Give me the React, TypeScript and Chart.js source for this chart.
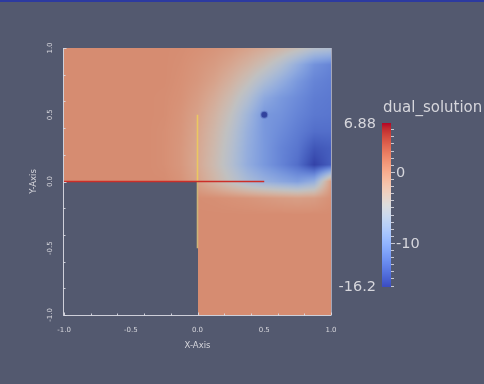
import { useEffect, useRef } from "react";
import { Chart, registerables } from "chart.js";

Chart.register(...registerables);

// Mesh node coordinates of the L-shaped domain (columns left→right, rows top→bottom)
const nodeX = [-1, -0.875, -0.75, -0.625, -0.5, -0.375, -0.25, -0.125, 0, 0.125, 0.25, 0.375, 0.5, 0.625, 0.75, 0.875, 1];
const nodeY = [1, 0.875, 0.75, 0.625, 0.5, 0.375, 0.25, 0.125, 0, -0.125, -0.25, -0.375, -0.5, -0.625, -0.75, -0.875, -1];

const _ = null;
// dual_solution nodal values, one row per nodeY entry (null = outside the domain)
const dualSolution: (number | null)[][] = [
  [0.7, 0.7, 0.7, 0.7, 0.7, 0.7, 0.7, 0.6, 0.4, 0.1, -0.3, -1.0, -1.8, -2.8, -4.0, -5.5, -6.0],
  [0.7, 0.7, 0.7, 0.7, 0.7, 0.7, 0.7, 0.5, 0.1, -0.4, -1.3, -2.5, -4.0, -6.0, -8.5, -11.0, -12.0],
  [0.7, 0.7, 0.7, 0.7, 0.7, 0.7, 0.7, 0.4, -0.1, -1.0, -2.4, -4.2, -6.5, -8.5, -10.5, -12.0, -12.5],
  [0.7, 0.7, 0.7, 0.7, 0.7, 0.7, 0.6, 0.3, -0.5, -1.8, -3.6, -6.0, -9.0, -10.5, -11.5, -12.5, -12.8],
  [0.7, 0.7, 0.7, 0.7, 0.7, 0.7, 0.6, 0.1, -0.9, -2.5, -4.6, -7.5, -10.5, -11.0, -12.0, -12.8, -13.0],
  [0.7, 0.7, 0.7, 0.7, 0.7, 0.7, 0.5, 0.0, -1.2, -3.0, -5.3, -8.2, -10.5, -11.5, -12.5, -13.5, -13.5],
  [0.7, 0.7, 0.7, 0.7, 0.7, 0.7, 0.5, -0.1, -1.4, -3.3, -5.7, -8.5, -10.5, -12.0, -13.0, -15.0, -14.5],
  [0.7, 0.7, 0.7, 0.7, 0.7, 0.7, 0.5, -0.1, -1.5, -3.5, -5.9, -8.6, -10.5, -12.0, -13.5, -16.2, -14.5],
  [0.7, 0.7, 0.7, 0.7, 0.7, 0.7, 0.7, 0.2, -1.0, -2.8, -4.8, -6.8, -8.2, -9.2, -10.0, -8.5, -0.5],
  [_, _, _, _, _, _, _, _, 0.6, 0.5, 0.3, 0.1, -0.2, -0.5, -0.7, -0.5, 0.4],
  [_, _, _, _, _, _, _, _, 0.7, 0.7, 0.7, 0.7, 0.7, 0.7, 0.7, 0.7, 0.7],
  [_, _, _, _, _, _, _, _, 0.7, 0.7, 0.7, 0.7, 0.7, 0.7, 0.7, 0.7, 0.7],
  [_, _, _, _, _, _, _, _, 0.7, 0.7, 0.7, 0.7, 0.7, 0.7, 0.7, 0.7, 0.7],
  [_, _, _, _, _, _, _, _, 0.7, 0.7, 0.7, 0.7, 0.7, 0.7, 0.7, 0.7, 0.7],
  [_, _, _, _, _, _, _, _, 0.7, 0.7, 0.7, 0.7, 0.7, 0.7, 0.7, 0.7, 0.7],
  [_, _, _, _, _, _, _, _, 0.7, 0.7, 0.7, 0.7, 0.7, 0.7, 0.7, 0.7, 0.7],
  [_, _, _, _, _, _, _, _, 0.7, 0.7, 0.7, 0.7, 0.7, 0.7, 0.7, 0.7, 0.7],
];

// Point singularity inside the upper-right block
const hotspot = [{ x: 0.5, y: 0.5 }];

// Reference lines drawn over the field
const redSegment = [{ x: -1, y: 0 }, { x: 0.5, y: 0 }];
const yellowUpper = [{ x: 0, y: 0.5 }, { x: 0, y: 0 }];
const yellowLower = [{ x: 0, y: 0 }, { x: 0, y: -0.5 }];

// Axis labelling
const axisTickValues = [-1, -0.5, 0, 0.5, 1];
const axisTickLabels = ["-1.0", "-0.5", "0.0", "0.5", "1.0"];
const xTitle = "X-Axis";
const yTitle = "Y-Axis";

// Colour legend
const fieldName = "dual_solution";
const rangeMin = -16.2;
const rangeMax = 6.88;
const rangeLabels = ["6.88", "-16.2"];
const legendTickValues = [0, -10];
const legendTickLabels = ["0", "-10"];

const BG = "rgb(83,89,111)";
const TEXT = "rgb(214,214,220)";

// Cool-to-warm diverging palette
const COOL_WARM: number[][] = [
  [59, 76, 192], [68, 90, 204], [77, 104, 215], [87, 117, 225], [98, 130, 234], [108, 142, 241],
  [119, 154, 247], [130, 165, 251], [141, 176, 254], [152, 185, 255], [163, 194, 255], [174, 201, 253],
  [184, 208, 249], [194, 213, 244], [204, 217, 238], [213, 219, 230], [221, 221, 221], [229, 216, 209],
  [236, 211, 197], [241, 204, 185], [245, 196, 173], [247, 187, 160], [247, 177, 148], [247, 166, 135],
  [244, 154, 123], [241, 141, 111], [236, 127, 99], [229, 112, 88], [222, 96, 77], [213, 80, 66],
  [203, 62, 56], [192, 40, 47], [180, 4, 38],
];

function coolWarm(v: number): number[] {
  let t = (v - rangeMin) / (rangeMax - rangeMin);
  t = Math.max(0, Math.min(1, t));
  const f = t * (COOL_WARM.length - 1);
  const i = Math.min(COOL_WARM.length - 2, Math.floor(f));
  const k = f - i;
  const a = COOL_WARM[i];
  const b = COOL_WARM[i + 1];
  return [a[0] + (b[0] - a[0]) * k, a[1] + (b[1] - a[1]) * k, a[2] + (b[2] - a[2]) * k];
}

// Locate the mesh interval holding v; returns [index, fraction] or null
function locate(nodes: number[], v: number): [number, number] | null {
  for (let i = 0; i < nodes.length - 1; i++) {
    const a = nodes[i];
    const b = nodes[i + 1];
    const lo = Math.min(a, b);
    const hi = Math.max(a, b);
    if (v >= lo && v <= hi) return [i, (v - a) / (b - a)];
  }
  return null;
}

const SHADE = 0.87;

const backgroundPlugin = {
  id: "background",
  beforeDraw(chart: any) {
    const { ctx, width, height } = chart;
    ctx.save();
    ctx.fillStyle = BG;
    ctx.fillRect(0, 0, width, height);
    ctx.fillStyle = "rgb(44,58,160)";
    ctx.fillRect(0, 0, width, 2);
    ctx.restore();
  },
};

const fieldPlugin = {
  id: "field",
  beforeDatasetsDraw(chart: any) {
    const { ctx, chartArea: a, scales } = chart;
    const xs = scales.x;
    const ys = scales.y;
    const x0 = Math.floor(a.left);
    const y0 = Math.floor(a.top);
    const w = Math.ceil(a.right) - x0;
    const h = Math.ceil(a.bottom) - y0;
    const off = document.createElement("canvas");
    off.width = w;
    off.height = h;
    const octx = off.getContext("2d")!;
    const img = octx.createImageData(w, h);
    for (let py = 0; py < h; py++) {
      const vy = ys.getValueForPixel(y0 + py + 0.5);
      const ly = locate(nodeY, vy);
      if (!ly) continue;
      const [j, fy] = ly;
      for (let px = 0; px < w; px++) {
        const vx = xs.getValueForPixel(x0 + px + 0.5);
        const lx = locate(nodeX, vx);
        if (!lx) continue;
        const [i, fx] = lx;
        const v00 = dualSolution[j][i];
        const v10 = dualSolution[j][i + 1];
        const v01 = dualSolution[j + 1][i];
        const v11 = dualSolution[j + 1][i + 1];
        if (v00 == null || v10 == null || v01 == null || v11 == null) continue;
        const v = v00 * (1 - fx) * (1 - fy) + v10 * fx * (1 - fy) + v01 * (1 - fx) * fy + v11 * fx * fy;
        const c = coolWarm(v);
        const o = (py * w + px) * 4;
        img.data[o] = c[0] * SHADE;
        img.data[o + 1] = c[1] * SHADE;
        img.data[o + 2] = c[2] * SHADE;
        img.data[o + 3] = 255;
      }
    }
    octx.putImageData(img, 0, 0);
    ctx.drawImage(off, x0, y0);
  },
};

const axesPlugin = {
  id: "cubeAxes",
  afterDatasetsDraw(chart: any) {
    const { ctx, chartArea: a, scales } = chart;
    const xs = scales.x;
    const ys = scales.y;
    ctx.save();
    ctx.strokeStyle = "rgba(220,220,228,0.9)";
    ctx.lineWidth = 1;
    // frame lines
    ctx.beginPath();
    ctx.moveTo(a.left - 0.5, a.top);
    ctx.lineTo(a.left - 0.5, a.bottom + 0.5);
    ctx.lineTo(a.right, a.bottom + 0.5);
    ctx.stroke();
    ctx.strokeStyle = "rgba(200,200,215,0.7)";
    ctx.beginPath();
    ctx.moveTo(a.right + 0.5, a.top);
    ctx.lineTo(a.right + 0.5, a.bottom);
    ctx.stroke();
    // minor / major ticks
    ctx.strokeStyle = "rgba(220,220,228,0.9)";
    ctx.beginPath();
    for (const t of xs.ticks) {
      const px = Math.round(xs.getPixelForValue(t.value)) + 0.5;
      const major = axisTickValues.some((m) => Math.abs(m - t.value) < 1e-6);
      ctx.moveTo(px, a.bottom + 0.5);
      ctx.lineTo(px, a.bottom + 0.5 - (major ? 3 : 2));
    }
    for (const t of ys.ticks) {
      const py = Math.round(ys.getPixelForValue(t.value)) + 0.5;
      const major = axisTickValues.some((m) => Math.abs(m - t.value) < 1e-6);
      ctx.moveTo(a.left - 0.5, py);
      ctx.lineTo(a.left - 0.5 + (major ? 3 : 2), py);
    }
    ctx.stroke();

    ctx.fillStyle = TEXT;
    ctx.font = '7px "DejaVu Sans"';
    ctx.textAlign = "center";
    ctx.textBaseline = "middle";
    axisTickValues.forEach((v, k) => {
      ctx.fillText(axisTickLabels[k], xs.getPixelForValue(v), a.bottom + 15);
    });
    axisTickValues.forEach((v, k) => {
      ctx.save();
      ctx.translate(a.left - 14, ys.getPixelForValue(v));
      ctx.rotate(-Math.PI / 2);
      ctx.fillText(axisTickLabels[k], 0, 0);
      ctx.restore();
    });
    ctx.font = '8.5px "DejaVu Sans"';
    ctx.fillText(xTitle, (a.left + a.right) / 2, a.bottom + 31);
    ctx.save();
    ctx.translate(a.left - 30, (a.top + a.bottom) / 2);
    ctx.rotate(-Math.PI / 2);
    ctx.fillText(yTitle, 0, 0);
    ctx.restore();
    ctx.restore();
  },
};

const colorbarPlugin = {
  id: "colorbar",
  afterDraw(chart: any) {
    const { ctx } = chart;
    const left = 382;
    const barW = 9;
    const top = 123;
    const bottom = 287;
    const toY = (v: number) => top + ((rangeMax - v) / (rangeMax - rangeMin)) * (bottom - top);
    ctx.save();
    for (let py = top; py < bottom; py++) {
      const v = rangeMax - ((py + 0.5 - top) / (bottom - top)) * (rangeMax - rangeMin);
      const c = coolWarm(v);
      ctx.fillStyle = `rgb(${c[0] | 0},${c[1] | 0},${c[2] | 0})`;
      ctx.fillRect(left, py, barW, 1);
    }
    ctx.strokeStyle = "rgba(220,220,228,0.85)";
    ctx.lineWidth = 1;
    ctx.beginPath();
    for (let v = Math.ceil(rangeMin); v <= Math.floor(rangeMax); v++) {
      const y = Math.round(toY(v)) + 0.5;
      const major = legendTickValues.includes(v);
      ctx.moveTo(left + barW, y);
      ctx.lineTo(left + barW + (major ? 4 : 3), y);
    }
    ctx.stroke();

    ctx.fillStyle = TEXT;
    ctx.font = '14.5px "DejaVu Sans"';
    ctx.textBaseline = "middle";
    ctx.textAlign = "right";
    ctx.fillText(rangeLabels[0], left - 6, toY(rangeMax) + 1);
    ctx.fillText(rangeLabels[1], left - 6, toY(rangeMin));
    ctx.textAlign = "left";
    legendTickValues.forEach((v, k) => ctx.fillText(legendTickLabels[k], left + barW + 5, toY(v) + 1));
    ctx.textBaseline = "alphabetic";
    ctx.font = '15px "DejaVu Sans"';
    ctx.fillText(fieldName, left + 1, 112);
    ctx.restore();
  },
};

export default function App() {
  const ref = useRef<HTMLCanvasElement>(null);
  useEffect(() => {
    const chart = new Chart(ref.current!, {
      type: "scatter",
      data: {
        datasets: [
          { type: "line", data: redSegment, borderColor: "rgb(204,46,40)", borderWidth: 1.6, pointRadius: 0 },
          { type: "line", data: yellowUpper, borderColor: "rgb(236,200,96)", borderWidth: 1.6, pointRadius: 0 },
          { type: "line", data: yellowLower, borderColor: "rgb(206,180,120)", borderWidth: 1.6, pointRadius: 0 },
          {
            data: hotspot,
            pointRadius: 3,
            backgroundColor: "rgba(42,56,150,0.9)",
            borderColor: "rgba(60,80,170,0.35)",
            borderWidth: 2,
          },
        ] as any,
      },
      options: {
        responsive: false,
        animation: false,
        events: [],
        layout: { padding: { left: 64, right: 153, top: 48, bottom: 69 } },
        scales: {
          x: { type: "linear", min: -1, max: 1, display: false, ticks: { stepSize: 0.1 } },
          y: { type: "linear", min: -1, max: 1, display: false, ticks: { stepSize: 0.1 } },
        },
        plugins: { legend: { display: false }, tooltip: { enabled: false } },
      },
      plugins: [backgroundPlugin, fieldPlugin, axesPlugin, colorbarPlugin],
    });
    return () => chart.destroy();
  }, []);
  return (
    <div style={{ position: "fixed", left: 0, top: 0, width: 484, height: 384 }}>
      <canvas ref={ref} width={484} height={384} style={{ display: "block", width: 484, height: 384 }} />
    </div>
  );
}
